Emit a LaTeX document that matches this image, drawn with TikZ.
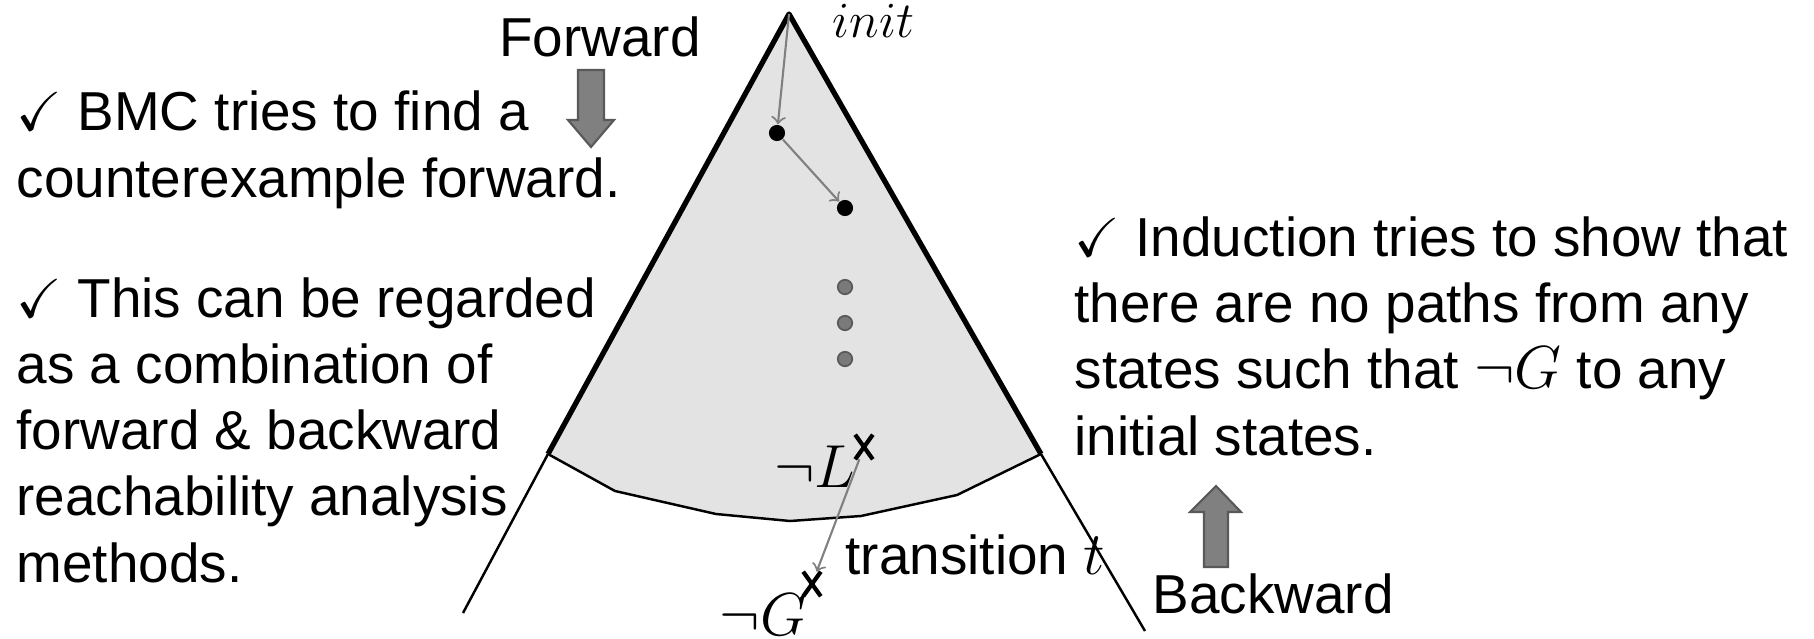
\documentclass[tikz,border=0pt]{standalone}
\usepackage{amssymb}
\usepackage{fontspec}
\setmainfont{Liberation Sans}
\usetikzlibrary{shapes.misc}

\newcommand{\bigmath}[1]{{\fontsize{18}{18.8}\selectfont$#1$}}

\tikzset{
  txt/.style={align=left, inner sep=0pt, font=\fontsize{15.6}{18.8}\selectfont},
  mlab/.style={inner sep=0pt, font=\fontsize{18.5}{22}\selectfont},
  state/.style={circle, fill=black, inner sep=0pt, minimum size=4.6pt},
  faint/.style={circle, fill=black!52, draw=black!65, line width=0.5pt, inner sep=0pt, minimum size=4.1pt},
  xmark/.style={cross out, draw, line width=1.2pt, inner sep=0pt, minimum width=3.8pt, minimum height=5.8pt},
  trans/.style={->, draw=black!50, line width=0.6pt},
  blockarrow/.style={fill=black!50, draw=black!65, line width=0.6pt},
}

\begin{document}
\begin{tikzpicture}[x=0.01cm, y=0.01cm, >=to]
  \useasboundingbox (0,0) rectangle (1814,638);

  % the region reached from init
  \coordinate (top) at (789,624);
  \coordinate (lc) at (548,184);
  \coordinate (rc) at (1041,184);
  \fill[black!11] (top) -- (lc) -- (615,147) -- (716,124) -- (790,117) -- (861,122) -- (957,143) -- (rc) -- cycle;
  \draw[line width=0.7pt] (lc) -- (615,147) -- (716,124) -- (790,117) -- (861,122) -- (957,143) -- (rc);
  \draw[line width=1.5pt, line join=round] (lc) -- (top) -- (rc);
  \draw[line width=0.7pt] (lc) -- (463,25);
  \draw[line width=0.7pt] (rc) -- (1145,7);
  \node[anchor=base west, inner sep=0pt, font=\fontsize{15.5}{18}\selectfont] (init) at (832,601) {$init$};

  % states on the way down
  \node[state] (s1) at (777,505) {};
  \node[state] (s2) at (845,430) {};
  \node[faint] (d1) at (845,351) {};
  \node[faint] (d2) at (845,315) {};
  \node[faint] (d3) at (845,279) {};
  \draw[trans] (top) -- (s1);
  \draw[trans] (s1) -- (s2);

  % the bad states
  \node[xmark] (xl) at (864,191) {};
  \node[xmark] (xg) at (812,54) {};
  \node[mlab, anchor=base east] (nl) at (856,151) {$\neg L$};
  \node[mlab, anchor=base east] (ng) at (808,3) {$\neg G$};
  \draw[trans] (xl) -- (xg);
  \node[txt, anchor=base west] (tr) at (845,64) {transition \bigmath{t}};

  % forward and backward
  \node[txt, anchor=base] (fw) at (600,582) {Forward};
  \draw[blockarrow] (578,568) -- (604,568) -- (604,518) -- (614,518) -- (591,491) -- (568,518) -- (578,518) -- cycle;
  \node[txt, anchor=base west] (bw) at (1152,25) {Backward};
  \draw[blockarrow] (1204,71) -- (1228,71) -- (1228,126) -- (1241,126) -- (1216,152) -- (1190,126) -- (1204,126) -- cycle;

  % explanations (base = last line)
  \node[txt, anchor=base west] (bmc) at (16,441) {$\checkmark$ BMC tries to find a\\counterexample forward.};
  \node[txt, anchor=base west] (comb) at (16,56) {$\checkmark$ This can be regarded\\as a combination of\\forward \& backward\\reachability analysis\\methods.};
  \node[txt, anchor=base west] (ind) at (1074,183) {$\checkmark$ Induction tries to show that\\there are no paths from any\\states such that \bigmath{\neg G} to any\\initial states.};
\end{tikzpicture}
\end{document}
